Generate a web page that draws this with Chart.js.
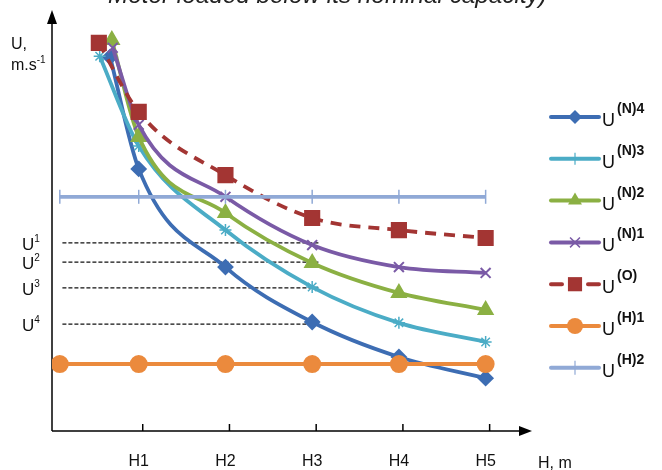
<!DOCTYPE html>
<html>
<head>
<meta charset="utf-8">
<script src="https://cdn.jsdelivr.net/npm/chart.js@4.4.0/dist/chart.umd.min.js"></script>
<style>
  html, body { margin: 0; padding: 0; background: #fff; }
  #wrap { width: 662px; height: 470px; }
</style>
</head>
<body>
<div id="wrap"><canvas id="chart" width="662" height="470"></canvas></div>
<script>
// H1..H5 sit at x = 1..5, U is in arbitrary units (axis has no scale)
const hTicks = [1, 2, 3, 4, 5];
const hLabels = ['H1', 'H2', 'H3', 'H4', 'H5'];

const xN4 = [0.67, 1, 2, 3, 4, 5];
const uN4 = [8.99, 6.30, 3.94, 2.62, 1.78, 1.27];
const xN3 = [0.55, 1, 2, 3, 4, 5];
const uN3 = [9.01, 6.85, 4.83, 3.46, 2.60, 2.14];
const xN2 = [0.69, 1, 2, 3, 4, 5];
const uN2 = [9.40, 7.07, 5.24, 4.04, 3.32, 2.91];
const xN1 = [0.70, 1, 2, 3, 4, 5];
const uN1 = [9.21, 7.36, 5.63, 4.47, 3.94, 3.80];
const xO = [0.54, 1, 2, 3, 4, 5];
const uO = [9.33, 7.67, 6.15, 5.12, 4.83, 4.64];
const xH = [0.09, 1, 2, 3, 4, 5];
const uH1 = [1.61, 1.61, 1.61, 1.61, 1.61, 1.61];
const uH2 = [5.63, 5.63, 5.63, 5.63, 5.63, 5.63];

// dashed reference levels U1..U4
const refLevels = [4.52, 4.06, 3.44, 2.57];
const refNames = ['1', '2', '3', '4'];
const refFrom = 0.12, refTo = 3.09;

const legendItems = [
    { sup: '(N)4', color: '#3D6DB3', style: 'rectRot', r: 7 },
    { sup: '(N)3', color: '#4BACC6', style: 'cross', r: 6 },
    { sup: '(N)2', color: '#8BB043', style: 'triangle', r: 8 },
    { sup: '(N)1', color: '#7A5AA6', style: 'crossRot', r: 7 },
    { sup: '(O)', color: '#A33533', style: 'rect', r: 10, dashed: true },
    { sup: '(H)1', color: '#EB8A3D', style: 'circle', r: 8 },
    { sup: '(H)2', color: '#90A9D6', style: 'cross', r: 7 }
];

function pts(xs, ys) {
    return xs.map((x, i) => ({ x: x, y: ys[i] }));
}

function series(label, xs, ys, color, style, radius, extra) {
    return Object.assign({
        label: label,
        data: pts(xs, ys),
        borderColor: color,
        backgroundColor: color,
        pointBorderColor: color,
        pointBackgroundColor: color,
        borderWidth: 3.8,
        pointStyle: style,
        pointRadius: radius,
        pointBorderWidth: 2,
        cubicInterpolationMode: 'monotone',
        fill: false
    }, extra || {});
}

const datasets = [
    series('U(N)4', xN4, uN4, '#3D6DB3', 'rectRot', 7, { order: 6 }),
    series('U(N)3', xN3, uN3, '#4BACC6', 'star', 6, { order: 5, pointBorderWidth: 1.5 }),
    series('U(N)2', xN2, uN2, '#8BB043', 'triangle', 8, { order: 4 }),
    series('U(N)1', xN1, uN1, '#7A5AA6', 'crossRot', 7, { order: 3 }),
    series('U(O)', xO, uO, '#A33533', 'rect', 10, { order: 2, borderDash: [11, 8] }),
    series('U(H)1', xH, uH1, '#EB8A3D', 'circle', 8, { order: 1 }),
    series('U(H)2', xH, uH2, '#90A9D6', 'line', 7, { order: 0, pointRotation: 90, pointBorderWidth: 1.5 })
];

refLevels.forEach((u, i) => {
    datasets.push({
        label: 'U' + refNames[i],
        data: [{ x: refFrom, y: u }, { x: refTo, y: u }],
        borderColor: '#111',
        borderWidth: 1.2,
        borderDash: [4, 2],
        pointRadius: 0,
        order: 10
    });
});

function drawMarker(ctx, style, x, y, r, color) {
    ctx.save();
    ctx.fillStyle = color;
    ctx.strokeStyle = color;
    ctx.lineWidth = 2;
    ctx.setLineDash([]);
    ctx.beginPath();
    if (style === 'circle') {
        ctx.arc(x, y, r, 0, Math.PI * 2);
        ctx.fill();
    } else if (style === 'rect') {
        const s = r * Math.SQRT1_2;
        ctx.fillRect(x - s, y - s, s * 2, s * 2);
    } else if (style === 'rectRot') {
        ctx.moveTo(x, y - r); ctx.lineTo(x + r, y); ctx.lineTo(x, y + r); ctx.lineTo(x - r, y);
        ctx.closePath(); ctx.fill();
    } else if (style === 'triangle') {
        ctx.moveTo(x, y - r); ctx.lineTo(x + r * 0.87, y + r * 0.5); ctx.lineTo(x - r * 0.87, y + r * 0.5);
        ctx.closePath(); ctx.fill();
    } else if (style === 'crossRot') {
        const s = r * Math.SQRT1_2;
        ctx.lineWidth = 1.5;
        ctx.moveTo(x - s, y - s); ctx.lineTo(x + s, y + s);
        ctx.moveTo(x + s, y - s); ctx.lineTo(x - s, y + s);
        ctx.stroke();
    } else {
        ctx.lineWidth = 1.2;
        ctx.moveTo(x, y - r); ctx.lineTo(x, y + r);
        ctx.stroke();
    }
    ctx.restore();
}

const decorPlugin = {
    id: 'decor',
    beforeDatasetsDraw(chart) {
        const ctx = chart.ctx;
        const xs = chart.scales.x, ys = chart.scales.y;
        const ox = xs.getPixelForValue(0), oy = ys.getPixelForValue(0);
        const xEnd = xs.getPixelForValue(5.5);
        ctx.save();
        ctx.strokeStyle = '#000';
        ctx.fillStyle = '#000';
        ctx.lineWidth = 1.5;
        // y axis with arrow
        ctx.beginPath();
        ctx.moveTo(ox, oy); ctx.lineTo(ox, 20);
        ctx.stroke();
        ctx.beginPath();
        ctx.moveTo(ox, 10); ctx.lineTo(ox - 5, 24); ctx.lineTo(ox + 5, 24); ctx.closePath();
        ctx.fill();
        // x axis with arrow
        ctx.beginPath();
        ctx.moveTo(ox, oy); ctx.lineTo(xEnd - 4, oy);
        ctx.stroke();
        ctx.beginPath();
        ctx.moveTo(xEnd + 3, oy); ctx.lineTo(xEnd - 10, oy - 5); ctx.lineTo(xEnd - 10, oy + 5); ctx.closePath();
        ctx.fill();
        // tick marks pointing up
        hTicks.forEach(v => {
            const px = xs.getPixelForValue(v) + 4;
            ctx.beginPath();
            ctx.moveTo(px, oy); ctx.lineTo(px, oy - 7);
            ctx.stroke();
        });
        ctx.restore();
    },
    afterDraw(chart) {
        const ctx = chart.ctx;
        const ys = chart.scales.y;
        ctx.save();
        ctx.textBaseline = 'alphabetic';

        // title, mostly cut off by the top edge
        const title = 'Motor loaded below its nominal capacity)';
        ctx.font = 'italic 20px "Liberation Sans", Arial, sans-serif';
        const tw = ctx.measureText(title).width;
        const ts = 20 * 439 / tw;
        ctx.font = 'italic ' + ts.toFixed(1) + 'px "Liberation Sans", Arial, sans-serif';
        ctx.textAlign = 'left';
        ctx.fillStyle = '#222';
        ctx.fillText(title, 108, 3);

        // y axis title
        ctx.fillStyle = '#111';
        ctx.font = '16px "Liberation Sans", Arial, sans-serif';
        ctx.fillText('U,', 11, 49);
        ctx.fillText('m.s', 11, 70);
        const msw = ctx.measureText('m.s').width;
        ctx.font = '10px "Liberation Sans", Arial, sans-serif';
        ctx.fillText('-1', 11 + msw, 63);

        // x axis title
        ctx.font = '16px "Liberation Sans", Arial, sans-serif';
        ctx.fillText('H, m', 538, 468);

        // labels of the reference levels
        refLevels.forEach((u, i) => {
            const py = ys.getPixelForValue(u);
            ctx.font = '17px "Liberation Sans", Arial, sans-serif';
            ctx.fillText('U', 22, py + 7);
            const w = ctx.measureText('U').width;
            ctx.font = '10px "Liberation Sans", Arial, sans-serif';
            ctx.fillText(refNames[i], 22 + w, py - 1);
        });

        // legend
        legendItems.forEach((it, i) => {
            const y = 117 + i * 41.8;
            ctx.save();
            ctx.strokeStyle = it.color;
            ctx.lineWidth = 4;
            ctx.lineCap = 'round';
            ctx.beginPath();
            if (it.dashed) {
                ctx.moveTo(551, y); ctx.lineTo(562, y);
                ctx.moveTo(588, y); ctx.lineTo(599, y);
            } else {
                ctx.moveTo(551, y); ctx.lineTo(599, y);
            }
            ctx.stroke();
            ctx.restore();
            drawMarker(ctx, it.style, 575, y, it.r, it.color);
            ctx.fillStyle = '#111';
            ctx.font = '18px "Liberation Sans Narrow", "Liberation Sans", Arial, sans-serif';
            ctx.fillText('U', 602, y + 9);
            const w = ctx.measureText('U').width;
            ctx.font = 'bold 14px "Liberation Sans Narrow", "Liberation Sans", Arial, sans-serif';
            ctx.fillText(it.sup, 604 + w, y - 4);
        });
        ctx.restore();
    }
};

new Chart(document.getElementById('chart').getContext('2d'), {
    type: 'line',
    data: { datasets: datasets },
    options: {
        responsive: false,
        devicePixelRatio: 1,
        animation: false,
        layout: { padding: { left: 52, right: 133, top: 15, bottom: 1 } },
        plugins: {
            legend: { display: false },
            tooltip: { enabled: false },
            title: { display: false }
        },
        scales: {
            x: {
                type: 'linear',
                min: 0,
                max: 5.5,
                grid: { display: false },
                border: { display: false },
                afterBuildTicks: (axis) => { axis.ticks = hTicks.map(v => ({ value: v })); },
                afterFit: (axis) => { axis.height = 38; },
                ticks: {
                    padding: 13,
                    maxRotation: 0,
                    color: '#111',
                    font: { family: '"Liberation Sans", Arial, sans-serif', size: 16 },
                    callback: (v) => hLabels[hTicks.indexOf(v)]
                }
            },
            y: {
                display: false,
                min: 0,
                max: 10
            }
        }
    },
    plugins: [decorPlugin]
});
</script>
</body>
</html>
